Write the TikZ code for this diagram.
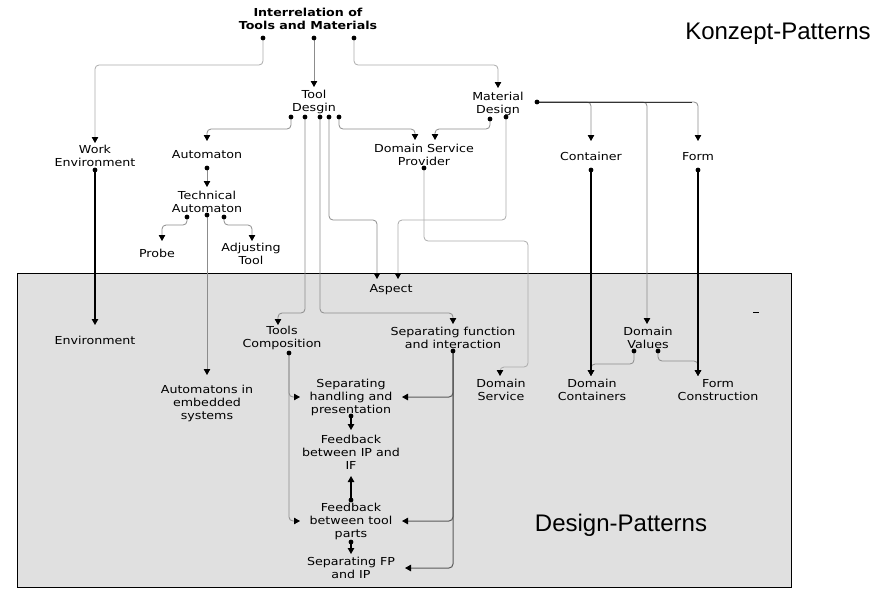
\documentclass[tikz,border=0pt]{standalone}
\usepackage{fontspec}
\newfontfamily\dvf[FakeStretch=1.15]{DejaVu Sans}
\newfontfamily\arialf{Liberation Sans}
\usetikzlibrary{arrows.meta}
\definecolor{boxgray}{HTML}{E0E0E0}
\definecolor{lg}{HTML}{8C8C8C}
\definecolor{llg}{HTML}{ABABAB}
\begin{document}
\begin{tikzpicture}[x=1pt,y=-1pt,
  lbl/.style={font=\dvf\fontsize{11}{13}\selectfont, align=center, inner sep=0pt},
  big/.style={font=\arialf\fontsize{24}{28}\selectfont, inner sep=0pt},
  conn/.style={color=lg, line width=0.8pt, rounded corners=4pt, -{Triangle[width=6.5pt,length=6pt,color=black]}},
  lconn/.style={conn, color=llg},
  bconn/.style={conn, color=black, line width=1.1pt},
  dconn/.style={conn, color=black!65, line width=1pt},
  dotc/.style={fill=black}]
\useasboundingbox (0,0) rectangle (882,595);
\draw[fill=boxgray, line width=1pt] (17,273) rectangle (791,587);

% ports and arrow targets
\coordinate (it1) at (263,38); \coordinate (it2) at (314,38); \coordinate (it3) at (354,38);
\coordinate (wein) at (95,143); \coordinate (tdin) at (314,87); \coordinate (mdin) at (498,88);
\coordinate (td1) at (291,117); \coordinate (td2) at (305,117); \coordinate (td3) at (320,117);
\coordinate (td4) at (329,117); \coordinate (td5) at (339,117);
\coordinate (md1) at (490,119); \coordinate (md2) at (506,117); \coordinate (md3) at (537,102);
\coordinate (auin) at (207,141); \coordinate (auout) at (207,168);
\coordinate (dspin1) at (415,140); \coordinate (dspin2) at (435,140); \coordinate (dspout) at (424,168);
\coordinate (weout) at (95,170);
\coordinate (ctin) at (591,141); \coordinate (ctout) at (591,170);
\coordinate (fmin) at (698,141); \coordinate (fmout) at (698,170);
\coordinate (tain) at (207,187);
\coordinate (ta1) at (187,217); \coordinate (ta2) at (207,215); \coordinate (ta3) at (224,217);
\coordinate (prin) at (162,241); \coordinate (atin) at (252,241);
\coordinate (aspin1) at (377,279); \coordinate (aspin2) at (398,279);
\coordinate (envin) at (95,325);
\coordinate (tcin) at (278,325); \coordinate (tcout) at (289,353);
\coordinate (sfin) at (453,324); \coordinate (sfout) at (453,351);
\coordinate (dvin) at (647,324); \coordinate (dv1) at (634,351); \coordinate (dv2) at (658,351);
\coordinate (dsin) at (500,376); \coordinate (dcin) at (591,376); \coordinate (fcin) at (698,376);
\coordinate (aein) at (207,375);
\coordinate (shL) at (300,397); \coordinate (shR) at (402,397); \coordinate (shout) at (351,416);
\coordinate (fiin) at (351,430); \coordinate (fibot) at (351,476);
\coordinate (ftL) at (300,521); \coordinate (ftR) at (402,521);
\coordinate (fttop) at (351,500); \coordinate (ftbot) at (351,542);
\coordinate (spin) at (351,554); \coordinate (spR) at (405,568);

% gray connectors
\draw[lconn] (it1) |- (95,65) -- (wein);
\draw[conn] (it2) -- (tdin);
\draw[lconn] (it3) |- (498,65) -- (mdin);
\draw[conn] (td1) |- (207,129) -- (auin);
\draw[conn] (td5) |- (415,129) -- (dspin1);
\draw[conn] (md1) |- (435,129) -- (dspin2);
\draw[conn] (td4) |- (377,220) -- (aspin1);
\draw[lconn] (md2) |- (398,220) -- (aspin2);
\draw[conn] (td2) |- (278,313) -- (tcin);
\draw[conn] (td3) |- (453,313) -- (sfin);
\draw[lconn] (dspout) |- (528,241) |- (500,367) -- (dsin);
\draw[conn] (md3) -| (ctin);
\draw[conn] (md3) -| (dvin);
\draw[conn] (md3) -| (fmin);
\draw[conn] (auout) -- (tain);
\draw[conn] (ta1) |- (162,225) -- (prin);
\draw[conn] (ta3) |- (252,225) -- (atin);
\draw[conn] (ta2) -- (aein);
\draw[conn] (dv1) |- (591,364) -- (dcin);
\draw[conn] (dv2) |- (698,361) -- (fcin);
\draw[conn] (tcout) |- (shL);
\draw[conn] (tcout) |- (ftL);
\draw[dconn] (sfout) |- (shR);
\draw[dconn] (sfout) |- (ftR);
\draw[dconn] (sfout) |- (spR);

% black connectors
\draw[black!80, line width=0.9pt] (md3) -- (692,102);
\draw[bconn] (weout) -- (envin);
\draw[bconn] (ctout) -- (dcin);
\draw[bconn] (fmout) -- (fcin);
\draw[bconn] (shout) -- (fiin);
\draw[bconn] (fttop) -- (fibot);
\draw[bconn] (ftbot) -- (spin);

% dots
\foreach \p in {it1,it2,it3,td1,td2,td3,td4,td5,md1,md2,md3,auout,dspout,weout,ctout,fmout,
  ta1,ta2,ta3,tcout,sfout,dv1,dv2,shout,fttop,ftbot}
  \fill[dotc] (\p) circle (2.4pt);

% dash mark
\draw[line width=0.9pt] (753,312) -- (759,312);

% labels
\node[lbl, font=\dvf\bfseries\fontsize{11}{13}\selectfont] (it) at (308,19) {Interrelation of\\Tools and Materials};
\node[lbl] (td) at (314,102) {Tool\\Desgin};
\node[lbl] (md) at (498,104) {Material\\Design};
\node[lbl] (we) at (95,156) {Work\\Environment};
\node[lbl] (au) at (207,154.5) {Automaton};
\node[lbl] (ta) at (207,201.5) {Technical\\Automaton};
\node[lbl] (pr) at (157,253.5) {Probe};
\node[lbl] (at) at (251,254) {Adjusting\\Tool};
\node[lbl] (dsp) at (424,155) {Domain Service\\Provider};
\node[lbl] (ct) at (591,156.5) {Container};
\node[lbl] (fm) at (698,156.5) {Form};
\node[lbl] (asp) at (391,289.5) {Aspect};
\node[lbl] (env) at (95,340.5) {Environment};
\node[lbl] (tc) at (282,338) {Tools\\Composition};
\node[lbl] (sf) at (453,338) {Separating function\\and interaction};
\node[lbl] (dv) at (648,338) {Domain\\Values};
\node[lbl] (ds) at (501,390) {Domain\\Service};
\node[lbl] (dc) at (592,390) {Domain\\Containers};
\node[lbl] (fc) at (718,390) {Form\\Construction};
\node[lbl] (ae) at (207,403.5) {Automatons in\\embedded\\systems};
\node[lbl] (sh) at (351,397.5) {Separating\\handling and\\presentation};
\node[lbl] (fi) at (351,452.5) {Feedback\\between IP and\\IF};
\node[lbl] (ft) at (351,521.5) {Feedback\\between tool\\parts};
\node[lbl] (sp) at (351,568) {Separating FP\\and IP};
\node[big] (kp) at (778,34) {Konzept-Patterns};
\node[big] (dp) at (621,525) {Design-Patterns};
\end{tikzpicture}
\end{document}
